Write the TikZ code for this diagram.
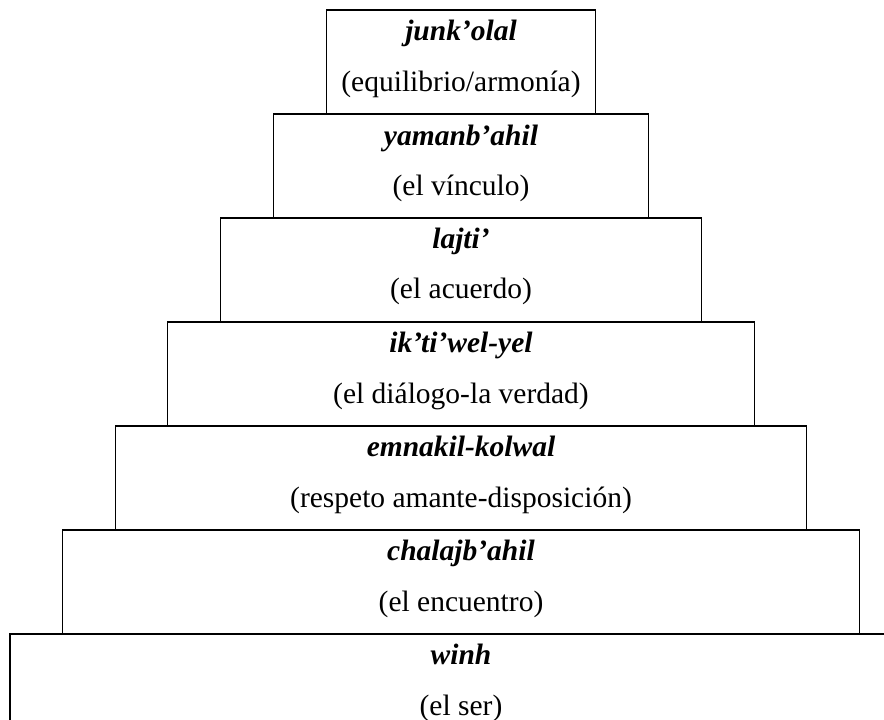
\documentclass[tikz,border=0pt]{standalone}
\usepackage{fontspec}
\setmainfont{Liberation Serif}
\begin{document}
\begin{tikzpicture}[x=1pt,y=-1pt,
  tier/.style={draw=black,line width=1.5pt,fill=none,inner sep=0pt,outer sep=0pt,rectangle,anchor=north,minimum height=104pt},
  ttl/.style={anchor=base,inner sep=0pt,font=\fontsize{29.5}{35}\selectfont\bfseries\itshape},
  sub/.style={anchor=base,inner sep=0pt,font=\fontsize{29.5}{35}\selectfont}]
\useasboundingbox (0,0) rectangle (884,720);
\clip (0,0) rectangle (884,720);
\fill[white] (0,0) rectangle (884,720);
% tiers: top y = 10 + 104*i, half-width grows by ~52.7
\node[tier,minimum width=902pt] (b7) at (461,634) {};
\node[tier,minimum width=797pt] (b6) at (461,530) {};
\node[tier,minimum width=691pt] (b5) at (461,426) {};
\node[tier,minimum width=587pt] (b4) at (461,322) {};
\node[tier,minimum width=481pt] (b3) at (461,218) {};
\node[tier,minimum width=375pt] (b2) at (461,114) {};
\node[tier,minimum width=269pt] (b1) at (461,10) {};
% texts
\node[ttl] (t1) at (461,40) {junk’olal};
\node[sub] (s1) at (461,91) {(equilibrio/armonía)};
\node[ttl] (t2) at (461,145) {yamanb’ahil};
\node[sub] (s2) at (461,195) {(el vínculo)};
\node[ttl] (t3) at (461,248) {lajti’};
\node[sub] (s3) at (461,298) {(el acuerdo)};
\node[ttl] (t4) at (461,352) {ik’ti’wel-yel};
\node[sub] (s4) at (461,403) {(el diálogo-la verdad)};
\node[ttl] (t5) at (461,456) {emnakil-kolwal};
\node[sub] (s5) at (461,507) {(respeto amante-disposición)};
\node[ttl] (t6) at (461,560) {chalajb’ahil};
\node[sub] (s6) at (461,611) {(el encuentro)};
\node[ttl] (t7) at (461,664) {winh};
\node[sub] (s7) at (461,715) {(el ser)};
\end{tikzpicture}
\end{document}
